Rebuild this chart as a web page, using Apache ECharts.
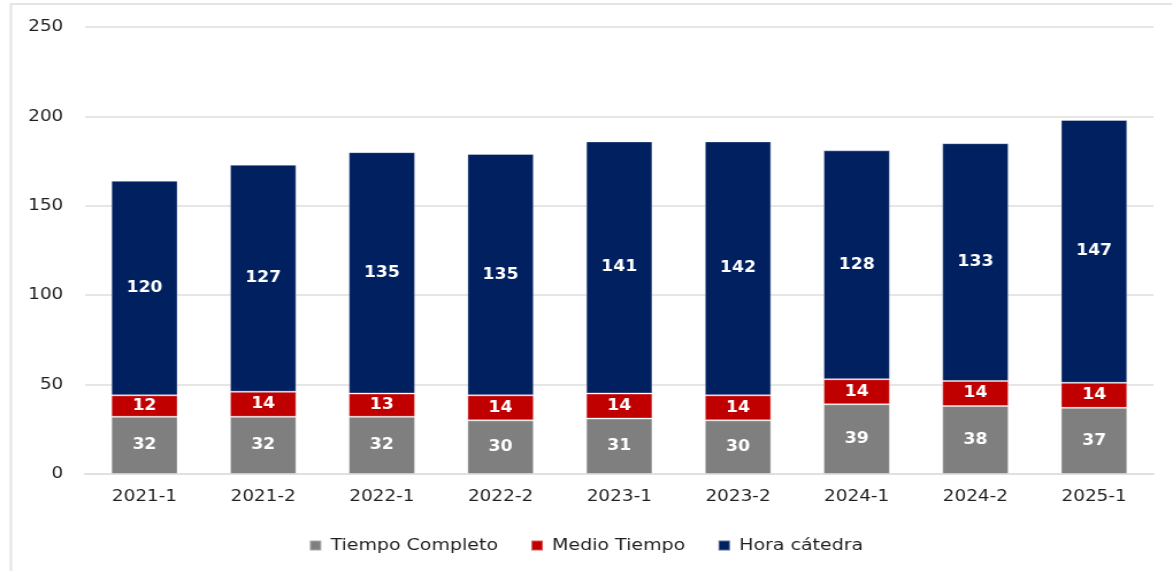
<!DOCTYPE html>
<html>
<head>
<meta charset="utf-8">
<script src="https://cdn.jsdelivr.net/npm/echarts@6/dist/echarts.min.js"></script>
<style>
  html, body { margin: 0; padding: 0; background: #fff; overflow: hidden; }
  /* The chart is laid out narrower and widened, giving the broad lettering of the original export */
  #chart { width: 1019px; height: 571px; transform: scaleX(1.15); transform-origin: 0 0; }
</style>
</head>
<body>
<div id="chart"></div>
<script>
// Semesters on the category axis
const periods = ['2021-1', '2021-2', '2022-1', '2022-2', '2023-1', '2023-2', '2024-1', '2024-2', '2025-1'];

// Teaching staff by contract type, per semester
const tiempoCompleto = [32, 32, 32, 30, 31, 30, 39, 38, 37];
const medioTiempo    = [12, 14, 13, 14, 14, 14, 14, 14, 14];
const horaCatedra    = [120, 127, 135, 135, 141, 142, 128, 133, 147];

// Value axis range
const yMin = 0, yMax = 250, yStep = 50;

const fontFamily = '"DejaVu Sans", "Open Sans", sans-serif';
const textColor = '#1f1f1f';

const chart = echarts.init(document.getElementById('chart'), null, { renderer: 'canvas' });

function stackSeries(name, data, color) {
  return {
    name: name,
    type: 'bar',
    stack: 'total',
    data: data,
    barCategoryGap: '44%',
    itemStyle: { color: color, borderColor: 'rgba(255,255,255,0.35)', borderWidth: 1 },
    label: {
      show: true,
      position: 'inside',
      color: '#ffffff',
      fontFamily: fontFamily,
      fontSize: 15,
      fontWeight: 'bold'
    },
    emphasis: { disabled: true }
  };
}

chart.setOption({
  animation: false,
  backgroundColor: '#ffffff',
  graphic: [
    {
      type: 'polyline',
      shape: { points: [[9.5, 571], [9.5, 4], [1019, 4]] },
      style: { stroke: '#e4e4e4', lineWidth: 2, fill: null },
      silent: true
    }
  ],
  grid: { left: 74, right: 16, top: 27, bottom: 97, containLabel: false },
  legend: {
    top: 532,
    left: 'center',
    itemWidth: 10,
    itemHeight: 10,
    itemGap: 28,
    icon: 'rect',
    textStyle: { color: textColor, fontFamily: fontFamily, fontSize: 16.5, padding: [0, 0, 0, 3] },
    data: ['Tiempo Completo', 'Medio Tiempo', 'Hora cátedra']
  },
  xAxis: {
    type: 'category',
    data: periods,
    axisLine: { show: true, lineStyle: { color: '#e0e0e0', width: 2 } },
    axisTick: { show: false },
    axisLabel: { color: textColor, fontFamily: fontFamily, fontSize: 16, margin: 15 }
  },
  yAxis: {
    type: 'value',
    min: yMin,
    max: yMax,
    interval: yStep,
    axisLine: { show: false },
    axisTick: { show: false },
    splitLine: { lineStyle: { color: '#e6e6e6', width: 2 } },
    axisLabel: { color: textColor, fontFamily: fontFamily, fontSize: 16, margin: 19 }
  },
  series: [
    stackSeries('Tiempo Completo', tiempoCompleto, '#7f7f7f'),
    stackSeries('Medio Tiempo', medioTiempo, '#c00000'),
    stackSeries('Hora cátedra', horaCatedra, '#002060')
  ]
});
</script>
</body>
</html>
